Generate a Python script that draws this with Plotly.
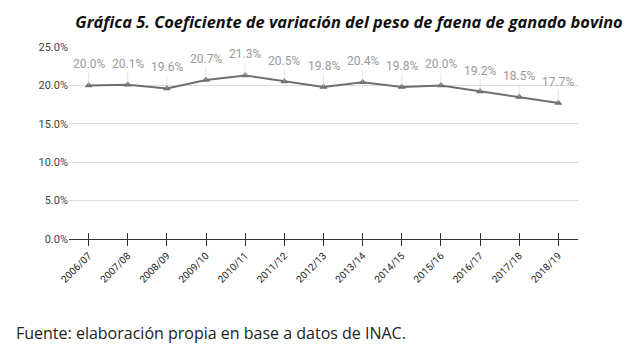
import plotly.graph_objects as go

categories = ["2006/07", "2007/08", "2008/09", "2009/10", "2010/11", "2011/12", "2012/13",
              "2013/14", "2014/15", "2015/16", "2016/17", "2017/18", "2018/19"]
values = [20.0, 20.1, 19.6, 20.7, 21.3, 20.5, 19.8, 20.4, 19.8, 20.0, 19.2, 18.5, 17.7]
y_ticks = [0, 5, 10, 15, 20, 25]
y_tick_labels = ["0.0%", "5.0%", "10.0%", "15.0%", "20.0%", "25.0%"]

title_text = "<b><i>Gráfica 5. Coeficiente de variación del peso de faena de ganado bovino</i></b>"
source_text = "Fuente: elaboración propia en base a datos de INAC."

fig = go.Figure()
fig.add_trace(go.Scatter(
    x=categories, y=values, mode="lines+markers",
    line=dict(color="#6f6f6f", width=2),
    marker=dict(symbol="triangle-up", size=7, color="#6f6f6f"),
    showlegend=False, hoverinfo="skip",
))
# invisible trace on overlaying axis for inner tick half
fig.add_trace(go.Scatter(x=categories, y=values, xaxis="x2", mode="none",
                         showlegend=False, hoverinfo="skip"))

annotations = []
for c, v in zip(categories, values):
    annotations.append(dict(
        x=c, y=v, xref="x", yref="y", text=f"{v:.1f}%",
        showarrow=True, arrowhead=0, arrowwidth=0.6, arrowcolor="#d0d0d0",
        ax=0, ay=-21, font=dict(family="Roboto, Arial", size=12, color="#9a9a9a"),
    ))
annotations.append(dict(
    x=(14 - 69) / 509, y=(239 - 333) / 192, xref="paper", yref="paper",
    xanchor="left", yanchor="middle", showarrow=False, text=source_text,
    font=dict(family="Open Sans, Liberation Sans", size=16, color="#222222"),
))

cat_range = [-0.5, len(categories) - 0.5]

fig.update_layout(
    width=638, height=361,
    margin=dict(l=69, r=60, t=47, b=122, autoexpand=False),
    paper_bgcolor="white", plot_bgcolor="white",
    title=dict(text=title_text, xref="container", yref="container",
               x=349 / 638, y=1 - 22 / 361, xanchor="center", yanchor="middle",
               font=dict(family="Open Sans, Lato", size=16.4, color="#111111")),
    xaxis=dict(type="category", range=cat_range, showgrid=False, showline=True,
               linecolor="#333333", linewidth=1.2, ticks="outside", ticklen=6,
               tickcolor="#333333", tickwidth=1.2, tickangle=-45, automargin=False,
               tickfont=dict(family="Roboto, Arial", size=10, color="#222222")),
    xaxis2=dict(type="category", range=cat_range, overlaying="x", showgrid=False,
                showline=False, ticks="inside", ticklen=6, tickcolor="#333333",
                tickwidth=1.2, showticklabels=False, side="bottom", automargin=False),
    yaxis=dict(range=[0, 25], tickvals=y_ticks, ticktext=y_tick_labels,
               showgrid=True, gridcolor="#dcdcdc", gridwidth=1, zeroline=False,
               ticks="", automargin=False,
               tickfont=dict(family="Roboto, Arial", size=11, color="#444444")),
    annotations=annotations,
)

fig.write_html("out.html", config={"displayModeBar": False},
               post_script="document.body.style.margin='0';document.body.style.overflow='hidden';")
